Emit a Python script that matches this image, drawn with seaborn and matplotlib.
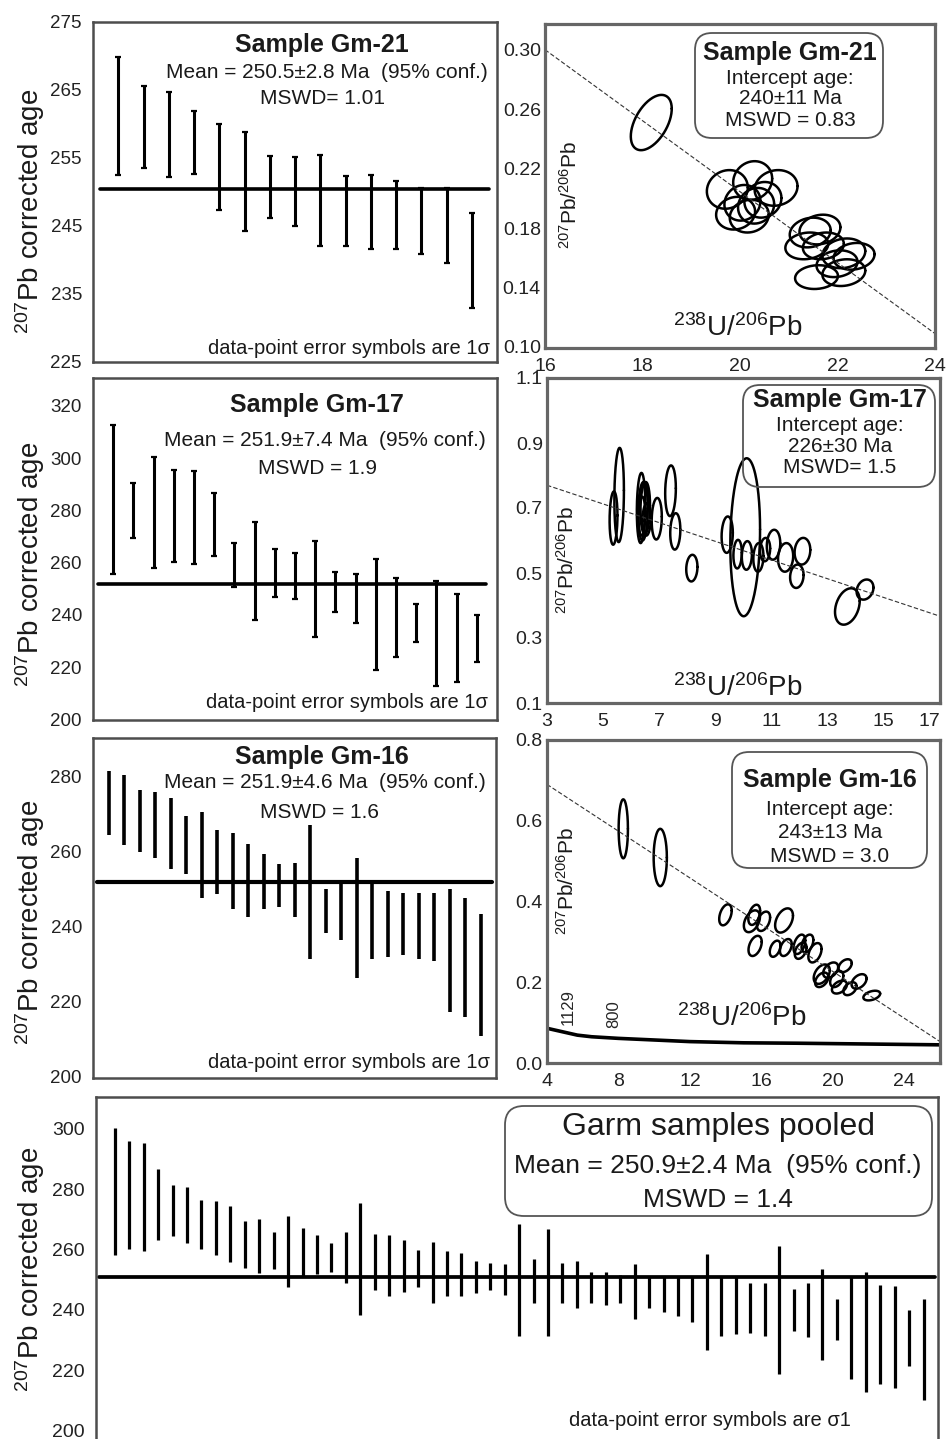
import numpy as np
import pandas as pd
import matplotlib
matplotlib.use("Agg")
from matplotlib import pyplot as plt
from matplotlib.patches import FancyBboxPatch
from matplotlib.ticker import FormatStrFormatter
import seaborn as sns

W, H = 948, 1439

# ---- weighted mean plots: top / bottom of each 1-sigma bar (Ma) ----
gm21_high = [269.8, 265.6, 264.7, 261.9, 260.0, 258.8, 255.3, 255.2, 255.4, 252.4, 252.5, 251.6, 250.6, 250.6, 246.9]
gm21_low = [252.5, 253.5, 252.2, 252.6, 247.4, 244.3, 246.2, 245.0, 242.0, 242.0, 241.6, 241.6, 240.9, 239.6, 232.9]

gm17_high = [312.7, 290.4, 300.2, 295.5, 295.1, 286.6, 267.4, 275.7, 265.3, 263.6, 268.4, 256.3, 255.7, 261.3,
             254.0, 244.1, 253.0, 248.0, 240.0]
gm17_low = [255.6, 269.3, 257.9, 260.2, 259.5, 262.6, 250.8, 238.1, 246.8, 246.0, 231.5, 241.0, 236.8, 219.0,
            223.8, 229.8, 212.8, 214.5, 221.8]

gm16_high = [281.5, 280.4, 276.4, 276.0, 274.3, 269.5, 270.6, 265.7, 264.9, 262.1, 259.3, 256.7, 256.9, 267.1,
             250.0, 251.8, 258.4, 251.3, 249.5, 249.1, 249.1, 249.1, 250.0, 247.8, 243.5]
gm16_low = [264.4, 261.8, 259.9, 258.4, 255.5, 254.0, 247.8, 248.7, 244.7, 242.6, 244.7, 245.3, 242.7, 231.5,
            238.3, 236.4, 226.4, 231.5, 232.0, 232.4, 231.5, 230.9, 217.1, 215.8, 210.9]

pooled_high = [300.2, 295.9, 295.4, 286.7, 281.4, 280.6, 276.3, 276.0, 274.5, 269.4, 270.1, 265.8, 270.9, 267.0,
               264.8, 262.1, 265.6, 275.4, 265.0, 264.8, 263.1, 259.9, 262.3, 259.3, 258.8, 256.3, 255.4, 255.2,
               268.3, 256.8, 266.7, 255.4, 256.1, 252.5, 252.5, 251.6, 255.2, 251.0, 251.0, 251.2, 251.2, 258.5,
               251.3, 251.3, 248.9, 248.9, 261.2, 247.0, 248.9, 253.6, 243.7, 251.3, 252.5, 248.1, 247.8, 239.9, 243.7]
pooled_low = [258.0, 260.1, 259.6, 263.1, 264.3, 262.0, 260.1, 258.0, 255.8, 253.8, 252.1, 253.6, 247.6, 251.1,
              251.9, 252.5, 248.9, 238.3, 246.5, 244.6, 245.9, 247.6, 242.3, 244.5, 244.5, 245.4, 246.5, 244.8,
              231.2, 242.3, 231.4, 242.1, 240.7, 242.1, 241.6, 242.1, 236.8, 240.7, 239.4, 238.0, 236.1, 226.5,
              231.2, 232.1, 232.2, 231.2, 218.6, 233.1, 230.8, 223.2, 229.9, 217.0, 212.6, 215.3, 214.2, 221.3, 210.2]

means = {"gm21": 250.5, "gm17": 251.9, "gm16": 251.9, "pooled": 250.9}

gm21_ticks = [225, 235, 245, 255, 265, 275]
gm17_ticks = [200, 220, 240, 260, 280, 300, 320]
gm16_ticks = [200, 220, 240, 260, 280]
pooled_ticks = [200, 220, 240, 260, 280, 300]

# ---- Tera-Wasserburg plots: ellipse centre, half extents and error correlation ----
tw21_x = [18.18, 19.74, 20.26, 20.74, 20.05, 20.33, 19.91, 20.19, 20.47,
          21.44, 21.64, 21.37, 21.71, 22.13, 22.34, 21.57, 22.13, 21.99]
tw21_y = [0.251, 0.206, 0.212, 0.207, 0.197, 0.195, 0.190, 0.188, 0.199,
          0.177, 0.179, 0.168, 0.168, 0.163, 0.161, 0.147, 0.150, 0.156]
tw21_sx = [0.42, 0.42, 0.40, 0.44, 0.37, 0.37, 0.40, 0.40, 0.38, 0.42, 0.42, 0.44, 0.42, 0.44, 0.42, 0.44, 0.44, 0.42]
tw21_sy = [0.0186, 0.013, 0.013, 0.012, 0.012, 0.012, 0.011, 0.011, 0.012,
           0.010, 0.010, 0.009, 0.009, 0.010, 0.009, 0.008, 0.009, 0.009]
tw21_rho = [0.5, 0.1, 0.1, 0.1, 0.1, 0.1, 0.1, 0.1, 0.1, 0.15, 0.15, 0.15, 0.15, 0.15, 0.15, 0.1, 0.15, 0.15]

tw17_x = [5.37, 5.57, 6.35, 6.42, 6.50, 6.45, 6.55, 6.38, 6.91, 7.40, 7.57, 8.16, 9.42, 10.06,
          9.79, 10.12, 10.53, 10.77, 11.07, 11.50, 12.10, 11.90, 13.70, 14.33]
tw17_y = [0.669, 0.740, 0.700, 0.690, 0.700, 0.720, 0.665, 0.675, 0.667, 0.753, 0.628, 0.515, 0.618, 0.610,
          0.558, 0.554, 0.548, 0.572, 0.587, 0.548, 0.567, 0.490, 0.397, 0.449]
tw17_sx = [0.14, 0.17, 0.15, 0.17, 0.17, 0.15, 0.15, 0.12, 0.18, 0.19, 0.18, 0.20, 0.20, 0.53,
           0.15, 0.18, 0.18, 0.18, 0.24, 0.27, 0.28, 0.24, 0.44, 0.30]
tw17_sy = [0.082, 0.145, 0.108, 0.090, 0.080, 0.060, 0.050, 0.060, 0.064, 0.078, 0.056, 0.041, 0.056, 0.243,
           0.044, 0.044, 0.044, 0.036, 0.046, 0.044, 0.041, 0.036, 0.056, 0.031]
tw17_rho = [0.1] * 22 + [0.3, 0.2]

tw16_x = [8.27, 10.34, 13.99, 15.60, 15.47, 16.12, 17.27, 15.65, 16.77, 17.37, 18.13, 18.58,
          19.00, 18.20, 19.38, 19.88, 20.22, 20.69, 20.37, 20.96, 21.47, 22.18, 19.38]
tw16_y = [0.580, 0.509, 0.367, 0.367, 0.351, 0.351, 0.353, 0.290, 0.283, 0.286, 0.294, 0.296,
          0.273, 0.278, 0.220, 0.230, 0.208, 0.241, 0.188, 0.184, 0.202, 0.167, 0.206]
tw16_sx = [0.26, 0.37, 0.35, 0.33, 0.45, 0.37, 0.50, 0.37, 0.30, 0.33, 0.33, 0.33,
           0.37, 0.33, 0.45, 0.42, 0.37, 0.37, 0.42, 0.37, 0.42, 0.47, 0.37]
tw16_sy = [0.073, 0.071, 0.026, 0.025, 0.027, 0.024, 0.030, 0.025, 0.020, 0.021, 0.024, 0.022,
           0.024, 0.020, 0.024, 0.019, 0.020, 0.016, 0.016, 0.016, 0.018, 0.012, 0.018]
tw16_rho = [0.0, 0.0] + [0.4] * 21

# discordia end points and the concordia curve
tw21_line = ([16, 24], [0.300, 0.109])
tw17_line = ([3, 17], [0.770, 0.367])
tw16_line = ([4, 26], [0.690, 0.053])
concordia_x = [4, 5, 5.7, 6.5, 8, 10, 12, 15, 18, 22, 26]
concordia_y = [0.086, 0.076, 0.069, 0.065, 0.061, 0.057, 0.053, 0.050, 0.049, 0.047, 0.045]

sns.set_theme(style="white")
plt.rcParams.update({
    "font.family": ["Liberation Sans", "DejaVu Sans"],
    "mathtext.fontset": "custom",
    "mathtext.rm": "Liberation Sans",
    "mathtext.it": "Liberation Sans:italic",
    "mathtext.bf": "Liberation Sans:bold",
    "mathtext.default": "regular",
})

fig = plt.figure(figsize=(W / 100, H / 100), dpi=100)
fig.patch.set_facecolor("white")


def add_axes(l, t, r, b):
    return fig.add_axes([l / W, 1 - b / H, (r - l) / W, (b - t) / H])


def ftext(x, y, s, ha="center", va="center", **kw):
    fig.text(x / W, 1 - y / H, s, ha=ha, va=va, color="#1a1a1a", **kw)


def rbox(l, t, r, b, rad=0.018):
    fig.patches.append(FancyBboxPatch((l / W, 1 - b / H), (r - l) / W, (b - t) / H,
                                      boxstyle=f"round,pad=0,rounding_size={rad}",
                                      mutation_aspect=W / H, transform=fig.transFigure,
                                      fc="none", ec="#555555", lw=1.3))


def frame(ax, color="#4d4d4d", lw=1.8):
    for sp in ax.spines.values():
        sp.set_visible(True)
        sp.set_color(color)
        sp.set_linewidth(lw)


def age_panel(ax, high, low, mean, xlim, ylim, ticks, minor, caps, lw, span):
    df = pd.DataFrame({"n": np.arange(1, len(high) + 1), "high": high, "low": low})
    df["age"] = (df["high"] + df["low"]) / 2
    df["err"] = (df["high"] - df["low"]) / 2
    ax.errorbar(df["n"], df["age"], yerr=df["err"], fmt="none", ecolor="black",
                elinewidth=lw, capsize=caps, capthick=1.6)
    ax.axhline(mean, xmin=span[0], xmax=span[1], color="black", lw=lw + 0.4)
    ax.set_xlim(xlim)
    ax.set_ylim(ylim)
    ax.set_xticks([])
    ax.set_yticks(ticks)
    ax.set_yticks(minor, minor=True)
    ax.tick_params(axis="y", which="both", direction="in", length=3, width=1,
                   color="#777777", labelsize=13.5, pad=8, labelcolor="#222222")
    frame(ax)


def tw_panel(ax, ex, ey, sx, sy, rho, line, xlim, ylim, xticks, yticks, yfmt, lw=1.8):
    t = np.linspace(0, 2 * np.pi, 160)
    for cx, cy, a, b, r in zip(ex, ey, sx, sy, rho):
        ax.plot(cx + a * np.cos(t), cy + b * (r * np.cos(t) + np.sqrt(1 - r * r) * np.sin(t)),
                color="black", lw=lw)
    sns.lineplot(x=line[0], y=line[1], ax=ax, color="#333333", lw=0.8, linestyle=(0, (4, 2)))
    ax.set_xlim(xlim)
    ax.set_ylim(ylim)
    ax.set_xticks(xticks)
    ax.set_yticks(yticks)
    ax.xaxis.set_major_formatter(FormatStrFormatter("%d"))
    ax.yaxis.set_major_formatter(FormatStrFormatter(yfmt))
    ax.minorticks_on()
    ax.tick_params(which="both", direction="in", length=3, width=1, color="#888888",
                   labelsize=14, labelcolor="#222222")
    ax.tick_params(axis="y", pad=3)
    ax.tick_params(axis="x", pad=7)
    ax.set_xlabel("")
    ax.set_ylabel("")
    frame(ax, "#666666", 2.3)


ylab = r"$^{207}$Pb corrected age"
ratio_x = r"$^{238}$U/$^{206}$Pb"
ratio_y = r"$^{207}$Pb/$^{206}$Pb"

# ---------------- Gm-21 ----------------
ax = add_axes(93, 22, 497, 362)
age_panel(ax, gm21_high, gm21_low, means["gm21"], (0, 16), (225, 275), gm21_ticks,
          [230, 240, 250, 260, 270], 2.5, 2.2, (0.017, 0.98))
ftext(322, 45, "Sample Gm-21", fontsize=18, fontweight="bold")
ftext(327, 73, "Mean = 250.5±2.8 Ma  (95% conf.)", fontsize=15)
ftext(322, 99, "MSWD= 1.01", fontsize=15)
ftext(490, 348, "data-point error symbols are 1σ", ha="right", fontsize=14.5)
ftext(30, 211, ylab, rotation=90, fontsize=20)

ax = add_axes(545, 24, 935, 348)
tw_panel(ax, tw21_x, tw21_y, tw21_sx, tw21_sy, tw21_rho, tw21_line, (16, 24), (0.0993, 0.3173),
         [16, 18, 20, 22, 24], [0.10, 0.14, 0.18, 0.22, 0.26, 0.30], "%.2f")
rbox(695, 33, 883, 138)
ftext(790, 53, "Sample Gm-21", fontsize=18, fontweight="bold")
ftext(790, 79, "Intercept age:", fontsize=15)
ftext(790, 99, "240±11 Ma", fontsize=15)
ftext(790, 120, "MSWD = 0.83", fontsize=15)
ftext(570, 195, ratio_y, rotation=90, fontsize=15)
ftext(738, 328, ratio_x, fontsize=20)

# ---------------- Gm-17 ----------------
ax = add_axes(93, 378, 497, 720)
age_panel(ax, gm17_high, gm17_low, means["gm17"], (0, 20), (199.8, 330.6), gm17_ticks,
          [210, 230, 250, 270, 290, 310], 2.5, 2.2, (0.013, 0.972))
ftext(317, 405, "Sample Gm-17", fontsize=18, fontweight="bold")
ftext(325, 441, "Mean = 251.9±7.4 Ma  (95% conf.)", fontsize=15)
ftext(318, 468, "MSWD = 1.9", fontsize=15)
ftext(488, 702, "data-point error symbols are 1σ", ha="right", fontsize=14.5)
ftext(30, 564, ylab, rotation=90, fontsize=20)

ax = add_axes(547, 378, 940, 703)
tw_panel(ax, tw17_x, tw17_y, tw17_sx, tw17_sy, tw17_rho, tw17_line, (3, 17), (0.1, 1.1),
         [3, 5, 7, 9, 11, 13, 15, 17], [0.1, 0.3, 0.5, 0.7, 0.9, 1.1], "%.1f")
ax.get_xticklabels()[-1].set_horizontalalignment("right")
rbox(743, 385, 935, 487)
ftext(840, 400, "Sample Gm-17", fontsize=18, fontweight="bold")
ftext(840, 425, "Intercept age:", fontsize=15)
ftext(840, 446, "226±30 Ma", fontsize=15)
ftext(840, 467, "MSWD= 1.5", fontsize=15)
ftext(567, 560, ratio_y, rotation=90, fontsize=15)
ftext(738, 688, ratio_x, fontsize=20)

# ---------------- Gm-16 ----------------
ax = add_axes(93, 738, 496, 1078)
age_panel(ax, gm16_high, gm16_low, means["gm16"], (0, 26), (199.6, 290.4), gm16_ticks,
          [210, 230, 250, 270, 290], 0, 2.6, (0.009, 0.99))
ftext(322, 757, "Sample Gm-16", fontsize=18, fontweight="bold")
ftext(325, 783, "Mean = 251.9±4.6 Ma  (95% conf.)", fontsize=15)
ftext(319, 812, "MSWD = 1.6", fontsize=15)
ftext(490, 1063, "data-point error symbols are 1σ", ha="right", fontsize=14.5)
ftext(30, 922, ylab, rotation=90, fontsize=20)

ax = add_axes(547, 740, 940, 1063)
tw_panel(ax, tw16_x, tw16_y, tw16_sx, tw16_sy, tw16_rho, tw16_line, (4, 26), (0.0, 0.8),
         [4, 8, 12, 16, 20, 24], [0.0, 0.2, 0.4, 0.6, 0.8], "%.1f")
sns.lineplot(x=concordia_x, y=concordia_y, ax=ax, color="black", lw=2.6)
ax.text(5.21, 0.139, "1129", rotation=90, ha="center", va="center", fontsize=12)
ax.text(7.73, 0.122, "800", rotation=90, ha="center", va="center", fontsize=12)
rbox(732, 752, 927, 868)
ftext(830, 780, "Sample Gm-16", fontsize=18, fontweight="bold")
ftext(830, 810, "Intercept age:", fontsize=15)
ftext(830, 833, "243±13 Ma", fontsize=15)
ftext(830, 857, "MSWD = 3.0", fontsize=15)
ftext(567, 881, ratio_y, rotation=90, fontsize=15)
ftext(742, 1018, ratio_x, fontsize=20)

# ---------------- pooled ----------------
ax = add_axes(96, 1097, 938, 1441)
age_panel(ax, pooled_high, pooled_low, means["pooled"], (-0.3, 58), (196.5, 310.5), pooled_ticks,
          [210, 230, 250, 270, 290], 0, 2.3, (0.003, 0.997))
ax.tick_params(axis="y", labelsize=14)
rbox(505, 1106, 932, 1216, rad=0.02)
ftext(718, 1127, "Garm samples pooled", fontsize=23)
ftext(718, 1166, "Mean = 250.9±2.4 Ma  (95% conf.)", fontsize=19)
ftext(718, 1200, "MSWD = 1.4", fontsize=19)
ftext(710, 1420, "data-point error symbols are σ1", fontsize=14.5)
ftext(30, 1269, ylab, rotation=90, fontsize=20)

fig.savefig("out.png", dpi=100, facecolor="white")
plt.close(fig)
